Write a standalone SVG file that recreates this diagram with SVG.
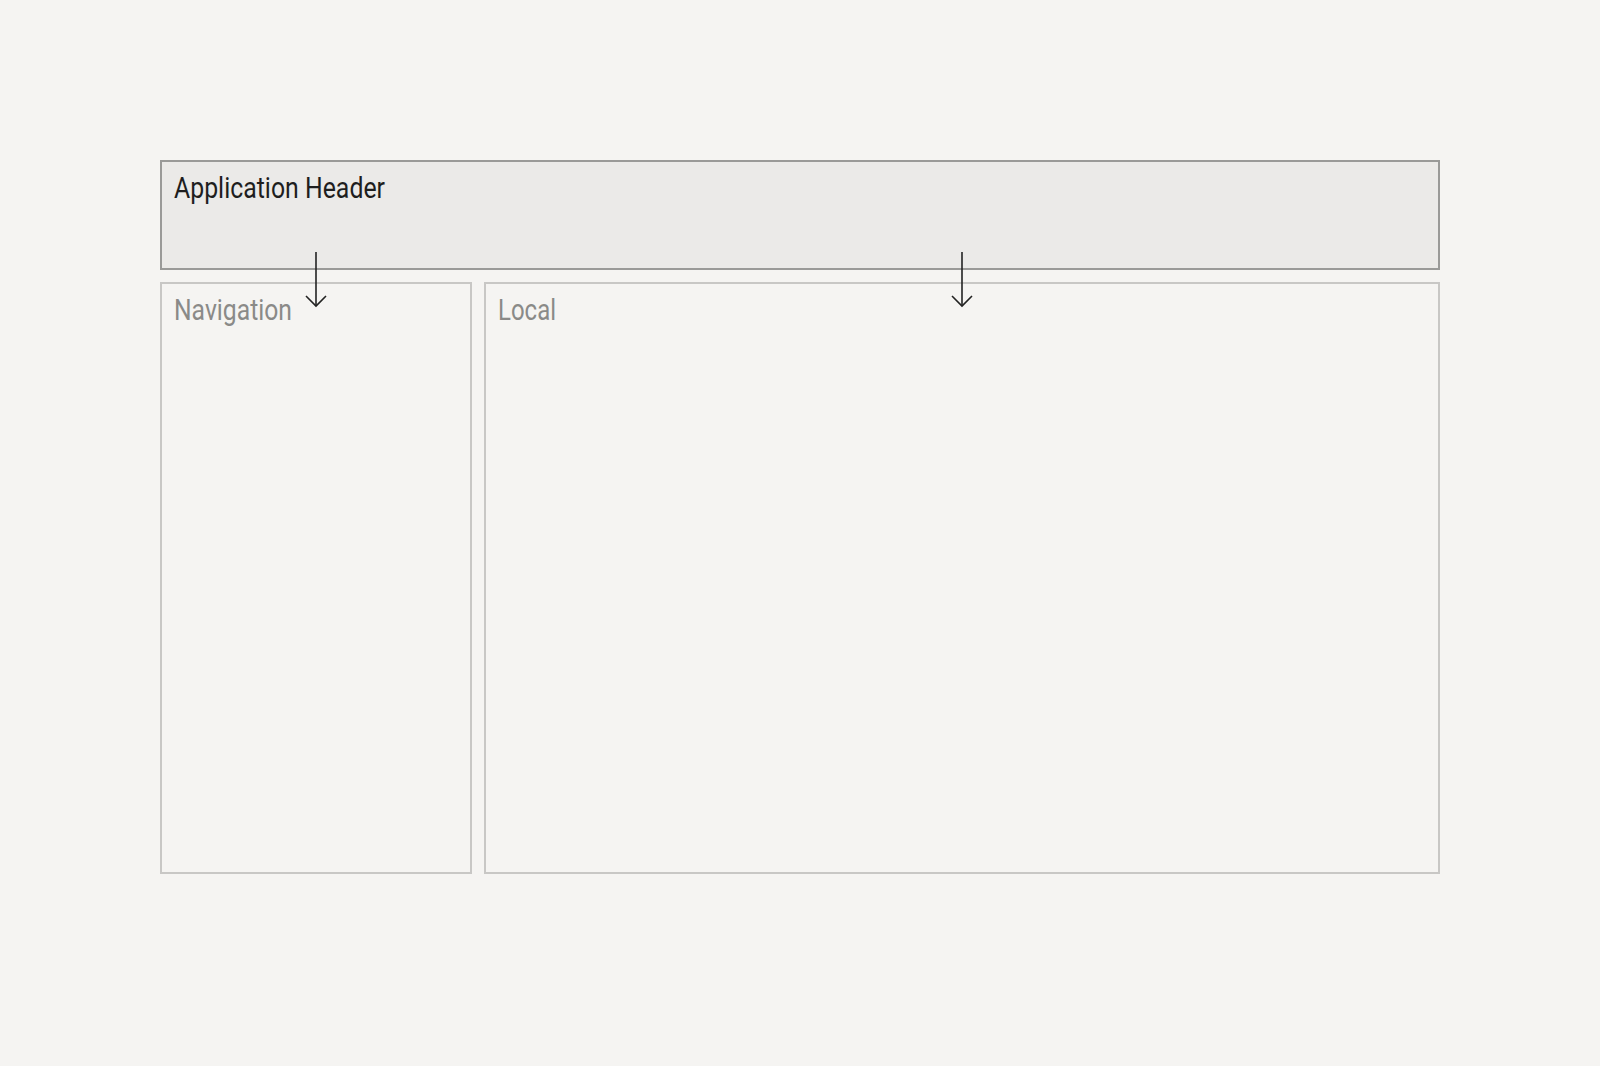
<svg xmlns="http://www.w3.org/2000/svg" width="1600" height="1066" viewBox="0 0 1600 1066">
<style>
.bg{fill:#f5f4f2}
.hdr{fill:#ebeae8;stroke:#9a9a98;stroke-width:2}
.pane{fill:#f5f4f2;stroke:#c8c7c5;stroke-width:2}
.t{font-family:"Roboto","Liberation Sans",sans-serif;font-size:29px;font-weight:400}
.dark{fill:#1e1e1e}
.mute{fill:#8a8a88}
.conn{fill:none;stroke:#222;stroke-width:1.6}
</style>
<defs>
<marker id="arr" viewBox="-12 -12 24 24" markerWidth="24" markerHeight="24" refX="0" refY="0" orient="auto" markerUnits="userSpaceOnUse">
<path d="M-10,-10 L0,0 L-10,10" fill="none" stroke="#222" stroke-width="1.6"/>
</marker>
</defs>
<rect class="bg" x="0" y="0" width="1600" height="1066"/>
<g id="header">
<rect class="hdr" x="161" y="161" width="1278" height="108"/>
<text class="t dark" x="174" y="198" textLength="211" lengthAdjust="spacingAndGlyphs">Application Header</text>
</g>
<g id="navigation">
<rect class="pane" x="161" y="283" width="310" height="590"/>
<text class="t mute" x="174" y="320" textLength="118" lengthAdjust="spacingAndGlyphs">Navigation</text>
</g>
<g id="local">
<rect class="pane" x="485" y="283" width="954" height="590"/>
<text class="t mute" x="498" y="320" textLength="58" lengthAdjust="spacingAndGlyphs">Local</text>
</g>
<g id="connectors">
<line class="conn" x1="316" y1="252" x2="316" y2="306" marker-end="url(#arr)"/>
<line class="conn" x1="962" y1="252" x2="962" y2="306" marker-end="url(#arr)"/>
</g>
</svg>
